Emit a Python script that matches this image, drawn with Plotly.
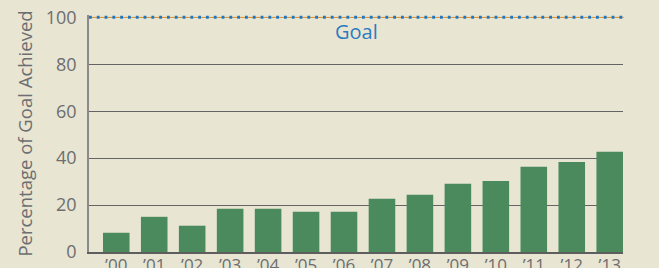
import plotly.graph_objects as go

years = ["’00", "’01", "’02", "’03", "’04", "’05", "’06", "’07", "’08", "’09", "’10", "’11", "’12", "’13"]
pct_goal = [8.2, 15.0, 11.2, 18.4, 18.4, 17.1, 17.1, 22.7, 24.4, 29.1, 30.3, 36.3, 38.4, 42.7]
y_ticks = [0, 20, 40, 60, 80, 100]
GOAL = 100
goal_label = "Goal"
y_title = "Percentage of Goal Achieved"

BG = "#E8E5D3"
BAR = "#4A8A5D"
TXT = "#6D6E70"
FONT = "Open Sans, Lato, sans-serif"

fig = go.Figure()
fig.add_trace(go.Bar(x=years, y=pct_goal, marker=dict(color=BAR, line=dict(width=0)),
                     hoverinfo="x+y"))

# goal line: thin orange line with blue dots on top
fig.add_shape(type="line", xref="paper", x0=0, x1=1.002, yref="y", y0=GOAL, y1=GOAL,
              line=dict(color="#F2A33A", width=1), layer="above")
fig.add_shape(type="line", xref="paper", x0=0, x1=1.002, yref="y", y0=GOAL, y1=GOAL,
              line=dict(color="#1F77C4", width=3, dash="2.8px,5px"), layer="above")
fig.add_annotation(text=goal_label, xref="paper", x=0.5, yref="y", y=GOAL,
                   yanchor="top", yshift=1, showarrow=False,
                   font=dict(family=FONT, size=20, color="#2C7BC0"))

fig.update_layout(
    width=659, height=268,
    margin=dict(l=89, r=35.5, t=15, b=16, pad=0),
    paper_bgcolor=BG, plot_bgcolor=BG,
    bargap=0.3,
    showlegend=False,
    font=dict(family=FONT, color=TXT, size=18),
    template="none",
)
fig.update_xaxes(type="category", range=[-0.718, 13.35], showgrid=False, zeroline=False,
                 showline=True, linecolor="#5E5E5E", linewidth=1.6,
                 ticks="", ticklabelstandoff=-3,
                 tickfont=dict(family=FONT, size=17, color=TXT), automargin=False)
fig.update_yaxes(range=[0, 101], tickvals=y_ticks, showgrid=True, gridcolor="#646464",
                 gridwidth=1.2, zeroline=False, showline=True, linecolor="#8A8A8A",
                 linewidth=1.6, ticks="outside", ticklen=7, tickcolor="rgba(0,0,0,0)",
                 tickfont=dict(family=FONT, size=18, color=TXT), automargin=False,
                 title=dict(text=y_title, font=dict(family=FONT, size=18.5, color=TXT),
                            standoff=8))

fig.write_html("out.html", config={"displayModeBar": False},
               post_script="document.body.style.margin='0';")
